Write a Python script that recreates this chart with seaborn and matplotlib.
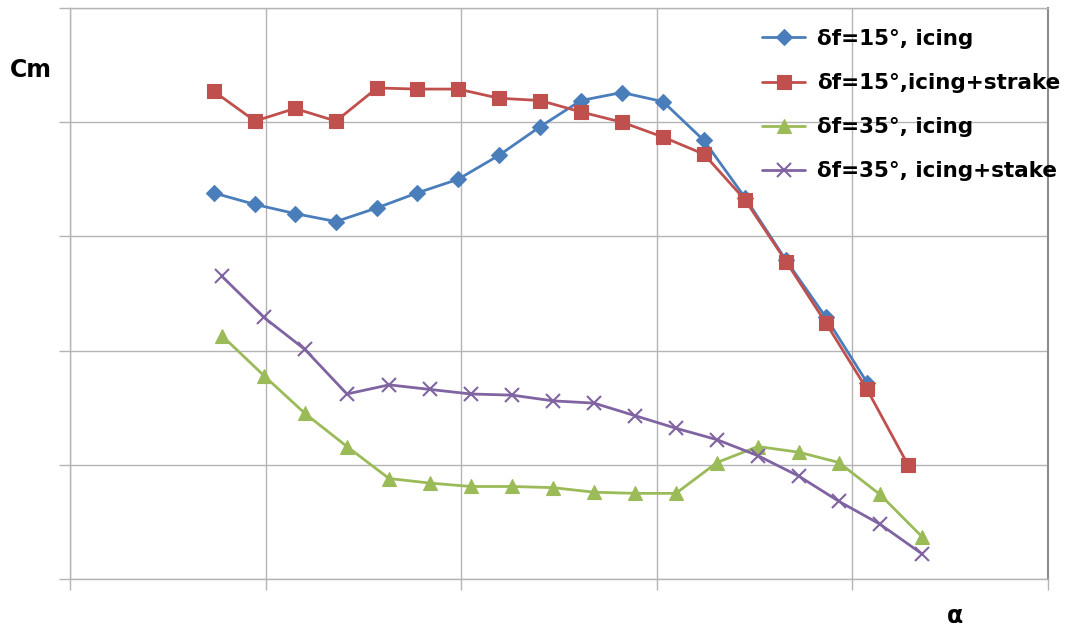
import matplotlib
matplotlib.use("Agg")
import matplotlib.pyplot as plt
import seaborn as sns

# angle of attack (arbitrary grid units, 10 per grid cell) and Cm
alpha_15 = [7.36, 9.46, 11.50, 13.60, 15.70, 17.74, 19.84, 21.93, 24.03,
            26.12, 28.22, 30.32, 32.41, 34.51, 36.61, 38.65, 40.75, 42.84]
alpha_35 = [7.77, 9.92, 12.01, 14.16, 16.31, 18.40, 20.50, 22.60, 24.69,
            26.79, 28.89, 30.98, 33.08, 35.17, 37.27, 39.31, 41.41, 43.56]

cm_15_icing = [0.338, 0.328, 0.320, 0.313, 0.325, 0.338, 0.350, 0.371, 0.396,
               0.419, 0.426, 0.418, 0.384, 0.334, 0.279, 0.229, 0.172]
cm_15_strake = [0.427, 0.401, 0.412, 0.401, 0.430, 0.429, 0.429, 0.421, 0.419,
                0.409, 0.400, 0.387, 0.372, 0.332, 0.278, 0.224, 0.166, 0.100]
cm_35_icing = [0.213, 0.178, 0.145, 0.116, 0.088, 0.084, 0.081, 0.081, 0.080,
               0.076, 0.075, 0.075, 0.102, 0.116, 0.111, 0.102, 0.074, 0.037]
cm_35_strake = [0.265, 0.229, 0.201, 0.162, 0.170, 0.166, 0.162, 0.161, 0.156,
                0.154, 0.143, 0.132, 0.122, 0.108, 0.090, 0.068, 0.048, 0.022]

labels = ["δf=15°, icing", "δf=15°,icing+strake",
          "δf=35°, icing", "δf=35°, icing+stake"]

sns.set_style("white")
plt.rcParams["font.family"] = ["DejaVu Sans"]
plt.rcParams["text.color"] = "black"

fig = plt.figure(figsize=(10.74, 6.27), dpi=100)
ax = fig.add_axes([70 / 1074, 48 / 627, 978 / 1074, 571 / 627])

series = [
    (alpha_15[:len(cm_15_icing)], cm_15_icing, "#4A7EBB", "D", 8),
    (alpha_15, cm_15_strake, "#C0504D", "s", 10),
    (alpha_35, cm_35_icing, "#9BBB59", "^", 10),
    (alpha_35, cm_35_strake, "#8064A2", "x", 10),
]

for (x, y, color, marker, msize), label in zip(series, labels):
    sns.lineplot(
        x=x, y=y, ax=ax, color=color, marker=marker, markersize=msize,
        markeredgecolor=color, markeredgewidth=1.5 if marker == "x" else 0.8,
        linewidth=2.0, label=label, sort=False, estimator=None
    )

ax.set_xlim(0, 50)
ax.set_ylim(0, 0.5)
ax.set_xticks([0, 10, 20, 30, 40, 50])
ax.set_yticks([0, 0.1, 0.2, 0.3, 0.4, 0.5])
ax.set_xticklabels([])
ax.set_yticklabels([])
ax.grid(True, color="#b4b4b4", linewidth=1.0)
ax.tick_params(axis="both", direction="out", length=8, width=1.0,
               color="#b4b4b4", bottom=True, left=True)

for side in ["top", "bottom", "left"]:
    ax.spines[side].set_color("#b4b4b4")
    ax.spines[side].set_linewidth(1.0)
ax.spines["right"].set_color("#8c8c8c")
ax.spines["right"].set_linewidth(1.5)

leg = ax.legend(
    loc="upper left", bbox_to_anchor=(762 / 1074, 1 - 29 / 627),
    bbox_transform=fig.transFigure, frameon=False,
    prop={"size": 15.5, "weight": "bold"}, handlelength=2.0,
    handletextpad=0.55, labelspacing=1.12, borderpad=0, borderaxespad=0
)
for t in leg.get_texts():
    t.set_color("black")

fig.text(10 / 1074, 1 - 70 / 627, "Cm", fontsize=17, fontweight="bold",
         va="center", ha="left", color="black")
fig.text(955 / 1074, 1 - 616 / 627, "α", fontsize=17, fontweight="bold",
         va="center", ha="center", color="black")

fig.savefig("out.png", dpi=100)
